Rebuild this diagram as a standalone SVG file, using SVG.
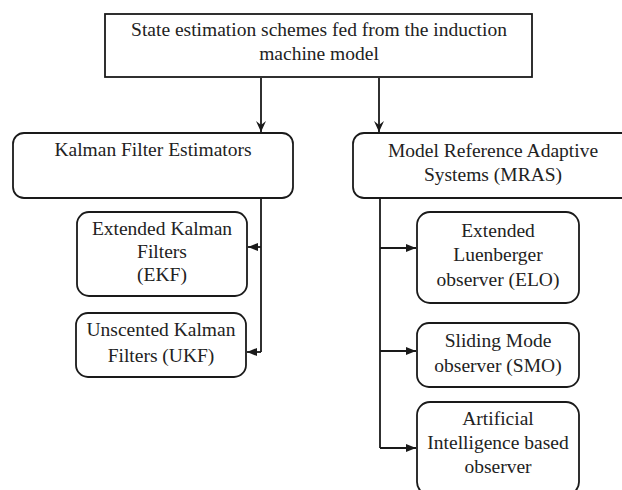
<svg xmlns="http://www.w3.org/2000/svg" width="622" height="490" viewBox="0 0 622 490">
<style>
.box{fill:#fff;stroke:#1a1a1a;stroke-width:1.8}
.t{font-family:"Liberation Serif","Times New Roman",serif;font-size:19.5px;fill:#222;text-anchor:middle}
.c{fill:none;stroke:#1a1a1a;stroke-width:1.8}
</style>
<defs>
<marker id="v" viewBox="0 0 12 12" refX="11" refY="6" markerWidth="12" markerHeight="12" markerUnits="userSpaceOnUse" orient="auto">
<path d="M0,1 L11,6 L0,11 L4,6 Z" fill="#1a1a1a"/>
</marker>
<marker id="tri" viewBox="0 0 12 12" refX="11" refY="6" markerWidth="11" markerHeight="11" markerUnits="userSpaceOnUse" orient="auto">
<path d="M0,1.5 L11,6 L0,10.5 Z" fill="#1a1a1a"/>
</marker>
</defs>
<rect width="622" height="490" fill="#fff"/>
<g id="connectors">
<path class="c" d="M261,78 V132" marker-end="url(#v)"/>
<path class="c" d="M379,78 V132" marker-end="url(#v)"/>
<path class="c" d="M261,198 V352"/>
<path class="c" d="M261,247 H248" marker-end="url(#tri)"/>
<path class="c" d="M261,352 H247" marker-end="url(#tri)"/>
<path class="c" d="M380,198 V448"/>
<path class="c" d="M380,248 H416" marker-end="url(#tri)"/>
<path class="c" d="M380,351 H416" marker-end="url(#tri)"/>
<path class="c" d="M380,448 H416" marker-end="url(#tri)"/>
</g>
<g id="root">
<rect class="box" x="105" y="14" width="427" height="63"/>
<text class="t" x="319" y="36">State estimation schemes fed from the induction</text>
<text class="t" x="319" y="60">machine model</text>
</g>
<g id="kalman">
<rect class="box" x="13" y="133" width="280" height="65" rx="11"/>
<text class="t" x="153" y="156">Kalman Filter Estimators</text>
</g>
<g id="mras">
<rect class="box" x="353" y="133" width="290" height="65" rx="11"/>
<text class="t" x="493" y="157">Model Reference Adaptive</text>
<text class="t" x="493" y="181">Systems (MRAS)</text>
</g>
<g id="ekf">
<rect class="box" x="77" y="212" width="170" height="84" rx="12"/>
<text class="t" x="162" y="235">Extended Kalman</text>
<text class="t" x="162" y="258">Filters</text>
<text class="t" x="162" y="281">(EKF)</text>
</g>
<g id="ukf">
<rect class="box" x="76" y="313" width="170" height="64" rx="12"/>
<text class="t" x="161" y="336">Unscented Kalman</text>
<text class="t" x="161" y="362">Filters (UKF)</text>
</g>
<g id="elo">
<rect class="box" x="417" y="212" width="162" height="91" rx="13"/>
<text class="t" x="498" y="237">Extended</text>
<text class="t" x="498" y="261">Luenberger</text>
<text class="t" x="498" y="286">observer (ELO)</text>
</g>
<g id="smo">
<rect class="box" x="417" y="323" width="162" height="64" rx="12"/>
<text class="t" x="498" y="347">Sliding Mode</text>
<text class="t" x="498" y="372">observer (SMO)</text>
</g>
<g id="ai">
<rect class="box" x="417" y="402" width="162" height="93" rx="13"/>
<text class="t" x="498" y="425">Artificial</text>
<text class="t" x="498" y="449">Intelligence based</text>
<text class="t" x="498" y="473">observer</text>
</g>
</svg>
